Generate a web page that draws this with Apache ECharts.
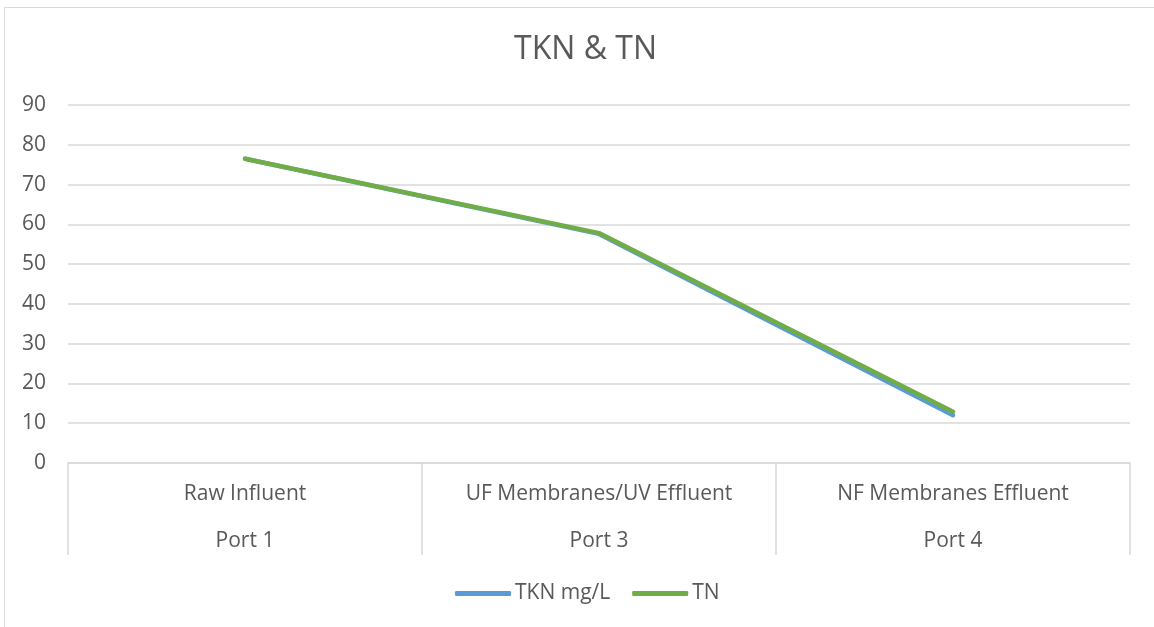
<!DOCTYPE html>
<html><head><meta charset="utf-8">
<script src="https://cdn.jsdelivr.net/npm/echarts@6/dist/echarts.min.js"></script>
<style>html,body{margin:0;padding:0;background:#fff}#c{width:1154px;height:627px}</style>
</head><body><div id="c"></div>
<script>
const categories = ["Raw Influent", "UF Membranes/UV Effluent", "NF Membranes Effluent"];
const ports = ["Port 1", "Port 3", "Port 4"];
const tknValues = [76.5, 57.6, 12.0];
const tnValues = [76.5, 57.8, 12.9];
const yTicks = {min: 0, max: 90, interval: 10};

const font = "'Open Sans', 'Liberation Sans', sans-serif";
const chart = echarts.init(document.getElementById('c'));
chart.setOption({
  animation: false,
  title: {text: 'TKN & TN', left: 509, top: 29, textStyle: {fontFamily: font, fontSize: 32, fontWeight: 'normal', color: '#595959'}},
  graphic: [{type: 'rect', shape: {x: 4.5, y: 7.5, width: 1300, height: 800}, style: {fill: 'none', stroke: '#d9d9d9', lineWidth: 1}, silent: true}],
  grid: {left: 68, right: 24, top: 105, bottom: 164},
  legend: {bottom: 18, left: 450, itemWidth: 56, itemHeight: 5, itemGap: 22, icon: 'roundRect',
    textStyle: {fontFamily: font, fontSize: 21, color: '#595959', padding: [0, 0, 0, -1]},
    data: ['TKN mg/L', 'TN']},
  xAxis: {type: 'category', data: categories.map((c, i) => c + '\n' + ports[i]), boundaryGap: true,
    axisLine: {lineStyle: {color: '#d9d9d9', width: 1.5}},
    axisTick: {show: true, length: 92, lineStyle: {color: '#d9d9d9', width: 1.5}},
    axisLabel: {fontFamily: font, fontSize: 21, color: '#595959', lineHeight: 47, margin: 8}},
  yAxis: {type: 'value', min: yTicks.min, max: yTicks.max, interval: yTicks.interval,
    axisLine: {show: false}, axisTick: {show: false},
    splitLine: {lineStyle: {color: '#d9d9d9', width: 1.5}},
    axisLabel: {fontFamily: font, fontSize: 21, color: '#595959', margin: 22}},
  series: [
    {name: 'TKN mg/L', type: 'line', data: tknValues, showSymbol: false, symbol: 'none', lineStyle: {color: '#5b9bd5', width: 4.5, cap: 'round', join: 'round'}, itemStyle: {color: '#5b9bd5'}},
    {name: 'TN', type: 'line', data: tnValues, showSymbol: false, symbol: 'none', lineStyle: {color: '#70ad47', width: 4.5, cap: 'round', join: 'round'}, itemStyle: {color: '#70ad47'}}
  ]
});
</script></body></html>
